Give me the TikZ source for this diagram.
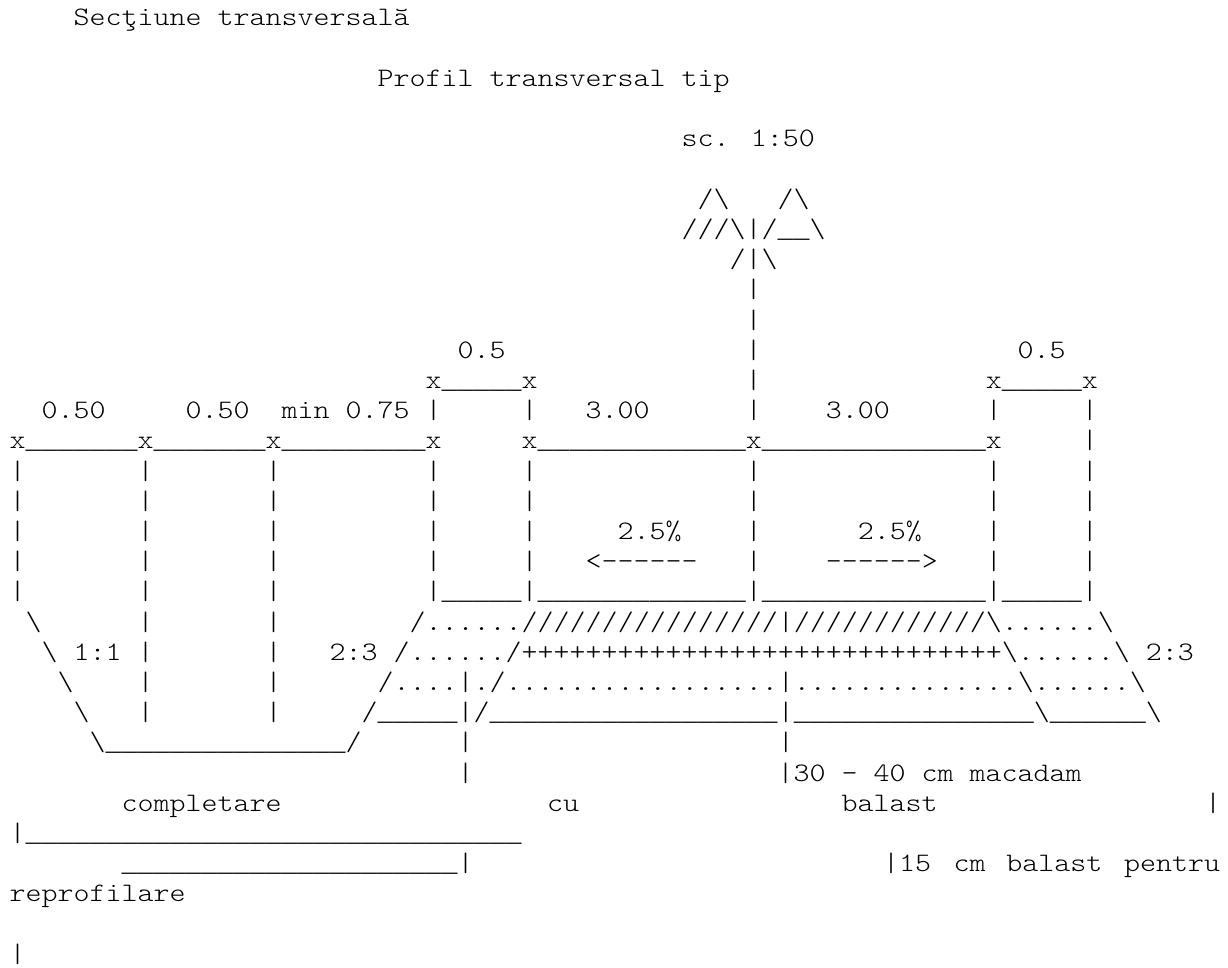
\documentclass[tikz,border=0pt]{standalone}
\usepackage{fontspec}
\newfontfamily\asciifont[Ligatures=NoCommon,FakeStretch=1.143]{Latin Modern Mono Light}
\newfontfamily\linefont{Liberation Mono}
\newcommand{\bs}{\textbackslash{}}
\newcommand{\rep}[2]{\foreach \i in {1,...,#1}{#2}}
\newcommand{\us}[1]{{\linefont\rep{#1}{\_}}}

\begin{document}
\begin{tikzpicture}[
    x=16pt,
    y=-30.2pt,
    ascii/.style={anchor=base west,inner sep=0pt,outer sep=0pt,xshift=9.6pt,yshift=-26pt,text=black,font=\fontsize{26.67}{30}\asciifont\obeyspaces}
]
\useasboundingbox (0,0) rectangle (76.75,32.053);

% Titles
\node[ascii] (title) at (4,0) {Secţiune transversală};
\node[ascii] (subtitle) at (23,2) {Profil transversal tip};
\node[ascii] (scale) at (42,4) {sc. 1:50};

% Road sign
\node[ascii] (signa) at (43,6) {/\bs   /\bs};
\node[ascii] (signb) at (42,7) {///\bs|/\us{2}\bs};
\node[ascii] (signc) at (45,8) {/|\bs};
\node[ascii] (poled) at (46,9) {|};
\node[ascii] (polee) at (46,10) {|};

% Widths
\node[ascii] (halfa) at (28,11) {0.5};
\node[ascii] (polef) at (46,11) {|};
\node[ascii] (halfb) at (63,11) {0.5};
\node[ascii] (kerba) at (26,12) {x\us{5}x             |              x\us{5}x};
\node[ascii] (widths) at (2,13) {0.50     0.50  min 0.75 |     |   3.00      |    3.00      |     |};

% Platform
\node[ascii] (top) at (0,14) {x\us{7}x\us{7}x\us{9}x     x\us{13}x\us{14}x     |};
\node[ascii] (walla) at (0,15) {|       |       |         |     |             |              |     |};
\node[ascii] (wallb) at (0,16) {|       |       |         |     |             |              |     |};
\node[ascii] (slopes) at (0,17) {|       |       |         |     |     2.5\%    |      2.5\%    |     |};
\node[ascii] (arrows) at (0,18) {|       |       |         |     |   <------   |    ------>   |     |};
\node[ascii] (bottom) at (0,19) {|       |       |         |\us{5}|\us{13}|\us{14}|\us{5}|};

% Layers
\node[ascii] (layera) at (1,20) {\bs      |       |        /\rep{6}{.}\rep{16}{/}|\rep{12}{/}\bs\rep{6}{.}\bs};
\node[ascii] (layerb) at (2,21) {\bs 1:1 |       |   2:3 /\rep{6}{.}/\rep{30}{+}\bs\rep{6}{.}\bs 2:3};
\node[ascii] (layerc) at (3,22) {\bs    |       |      /\rep{4}{.}|./\rep{17}{.}|\rep{14}{.}\bs\rep{6}{.}\bs};
\node[ascii] (layerd) at (4,23) {\bs   |       |     /\us{5}|/\us{18}|\us{15}\bs\us{6}\bs};
\node[ascii] (ditch) at (5,24) {\bs\us{15}/      |                   |};

% Notes
\node[ascii] (notea) at (28,25) {|                   |30 - 40 cm macadam};
\node[ascii] (noteb) at (7,26) {completare};
\node[ascii] (notec) at (33.6,26) {cu};
\node[ascii] (noted) at (52,26) {balast};
\node[ascii] (notee) at (74.72,26) {|};
\node[ascii] (notef) at (0,27) {|\us{31}};
\node[ascii] (noteg) at (7,28) {\us{21}|};
\node[ascii] (noteh) at (54.6,28) {|15};
\node[ascii] (notei) at (59,28) {cm};
\node[ascii] (notej) at (62.3,28) {balast};
\node[ascii] (notek) at (69.65,28) {pentru};
\node[ascii] (notel) at (0,29) {reprofilare};
\node[ascii] (notem) at (0,31) {|};

\end{tikzpicture}
\end{document}
